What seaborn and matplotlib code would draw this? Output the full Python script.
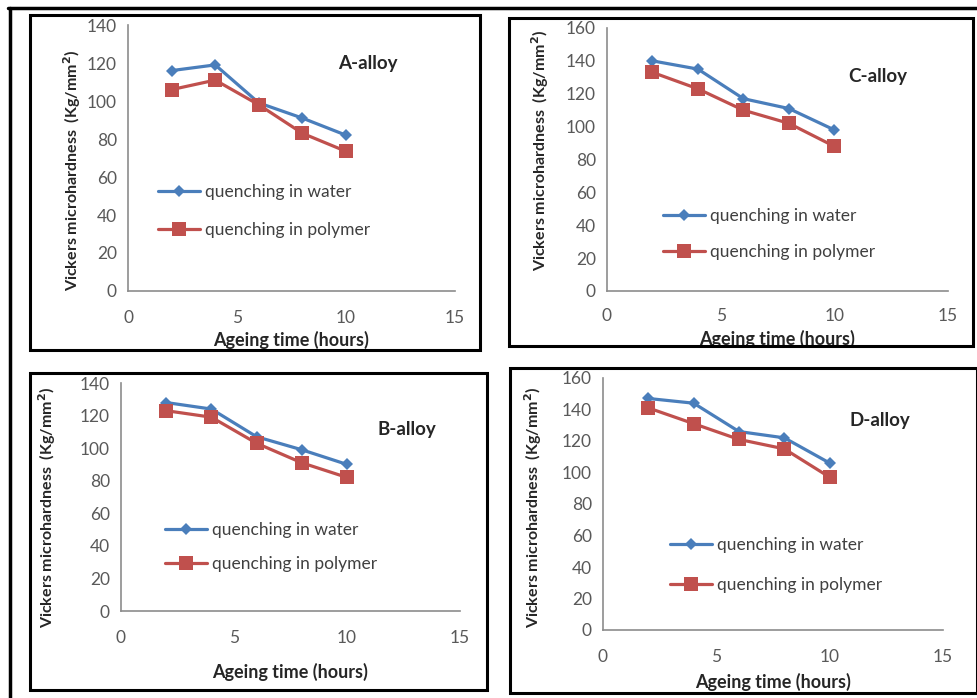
import pandas as pd
import matplotlib
matplotlib.use("Agg")
import matplotlib.pyplot as plt
import seaborn as sns
from matplotlib.patches import Rectangle
from matplotlib.lines import Line2D

# ageing time (hours) and Vickers microhardness
ageing_time = [2, 4, 6, 8, 10]

a_water = [116, 119, 99, 91, 82]
a_polymer = [106, 111, 98, 83, 73.5]
b_water = [128, 124, 107, 99, 90]
b_polymer = [123, 119, 103, 91, 82]
c_water = [140, 135, 117, 111, 98]
c_polymer = [133, 123, 110, 102, 88]
d_water = [147, 144, 126, 122, 106]
d_polymer = [141, 131, 121, 115, 97]

alloys = ["A-alloy", "C-alloy", "B-alloy", "D-alloy"]
water = [a_water, c_water, b_water, d_water]
polymer = [a_polymer, c_polymer, b_polymer, d_polymer]
y_max = [140, 160, 140, 160]
series_labels = ["quenching in water", "quenching in polymer"]
x_ticks = [0, 5, 10, 15]

sns.set_theme(style="white")
plt.rcParams["font.family"] = ["Lato", "DejaVu Sans"]

W, H = 978, 698
fig = plt.figure(figsize=(W / 100, H / 100), dpi=100)

# layout in pixels: axes (x0, x1, ybottom, ytop), box (x0, y0, x1, y1)
layout = [
    dict(ax=(128, 455, 291, 25), box=(30, 15, 480, 350), xlab=-0.184, ylab=(-0.171, 0.455),
         title=(0.734, 0.857), leg=(0.092, 0.401), ls=1.24, pad=9),
    dict(ax=(607, 948, 291, 28), box=(509, 18, 973, 346), xlab=-0.182, ylab=(-0.196, 0.536),
         title=(0.795, 0.814), leg=(0.164, 0.315), ls=1.13, pad=7),
    dict(ax=(121, 460, 611, 383), box=(30, 373, 487, 690), xlab=-0.268, ylab=(-0.218, 0.456),
         title=(0.844, 0.794), leg=(0.130, 0.389), ls=1.01, pad=9),
    dict(ax=(603, 943, 630, 378), box=(510, 368, 977, 693), xlab=-0.206, ylab=(-0.206, 0.488),
         title=(0.815, 0.833), leg=(0.197, 0.368), ls=1.36, pad=9),
]

# outer frame lines
fig.add_artist(Line2D([8 / W, 1], [1 - 8 / H, 1 - 8 / H], color="black", lw=2.5))
fig.add_artist(Line2D([10 / W, 10 / W], [0, 1 - 8 / H], color="black", lw=2.5))

blue = "#4a7ebb"
red = "#c0504d"
gray = "#595959"
spine_gray = "#8c8c8c"

for i, name in enumerate(alloys):
    L = layout[i]
    bx0, by0, bx1, by1 = L["box"]
    fig.add_artist(Rectangle((bx0 / W, 1 - by1 / H), (bx1 - bx0) / W, (by1 - by0) / H,
                             fill=False, edgecolor="black", lw=2.2))
    x0, x1, yb, yt = L["ax"]
    ax = fig.add_axes([x0 / W, 1 - yb / H, (x1 - x0) / W, (yb - yt) / H])
    ax.patch.set_alpha(0)

    df = pd.DataFrame({"time": ageing_time + ageing_time,
                       "hardness": water[i] + polymer[i],
                       "series": [series_labels[0]] * 5 + [series_labels[1]] * 5})
    sns.lineplot(data=df[df.series == series_labels[0]], x="time", y="hardness",
                 color=blue, lw=2.3, marker="D", markersize=6.5, markeredgewidth=0,
                 label=series_labels[0], ax=ax)
    sns.lineplot(data=df[df.series == series_labels[1]], x="time", y="hardness",
                 color=red, lw=2.3, marker="s", markersize=10, markeredgewidth=0,
                 label=series_labels[1], ax=ax)

    ax.set_xlim(0, 15)
    ax.set_ylim(0, y_max[i])
    ax.set_xticks(x_ticks)
    ax.set_yticks(range(0, y_max[i] + 1, 20))
    for s in ["top", "right"]:
        ax.spines[s].set_visible(False)
    for s in ["left", "bottom"]:
        ax.spines[s].set_color(spine_gray)
        ax.spines[s].set_linewidth(1.2)
    ax.tick_params(axis="both", colors=spine_gray, labelcolor=gray, labelsize=12.5,
                   length=5, width=1.2, direction="out")
    ax.tick_params(axis="x", pad=L["pad"])
    ax.tick_params(axis="y", pad=3)

    ax.set_xlabel("Ageing time (hours)", fontsize=13, fontweight="bold", color="#262626", va="center")
    ax.xaxis.set_label_coords(0.5, L["xlab"])
    ax.set_ylabel("Vickers microhardness  (Kg/mm$^\\mathbf{2}$)", fontsize=11.5, fontweight="bold",
                  color="#262626", va="center")
    ax.yaxis.set_label_coords(*L["ylab"])

    ax.text(L["title"][0], L["title"][1], name, transform=ax.transAxes, ha="center", va="center",
            fontsize=13.5, fontweight="bold", color="#262626")

    ax.legend(loc="upper left", bbox_to_anchor=L["leg"], frameon=False, fontsize=12.5,
              handlelength=2.4, handletextpad=0.3, borderpad=0, borderaxespad=0,
              labelspacing=L["ls"], labelcolor="#404040")

fig.savefig("out.png", dpi=100)
